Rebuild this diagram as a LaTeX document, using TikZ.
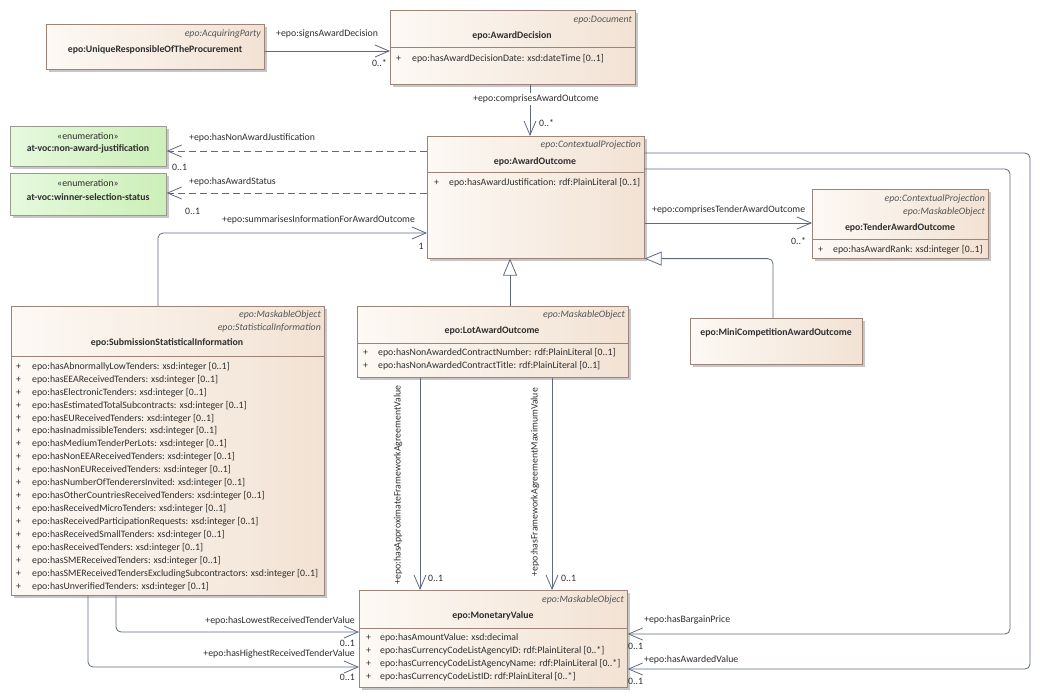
\documentclass[tikz,border=0pt]{standalone}
\usepackage{fontspec}
\setmainfont{Carlito}
\usetikzlibrary{arrows.meta,shadows}
\definecolor{clsL}{HTML}{FDF9F4}
\definecolor{clsR}{HTML}{F2E2D4}
\definecolor{bord}{HTML}{9E8478}
\definecolor{enL}{HTML}{E6F9DD}
\definecolor{enR}{HTML}{CCEFB8}
\definecolor{enB}{HTML}{9A9A90}
\definecolor{lnc}{HTML}{5E6A82}
\definecolor{txc}{HTML}{2E2E2E}
\definecolor{stc}{HTML}{555555}
\newcommand{\dfont}{\fontsize{9.8}{11}\selectfont}
\begin{document}
\begin{tikzpicture}[x=1pt,y=-1pt,
  every node/.style={font=\dfont, text=txc, inner sep=0pt},
  boxshadow/.style={drop shadow={shadow xshift=2.5pt, shadow yshift=-2.5pt, fill=black!22, opacity=1}},
  cls/.style={draw=bord, line width=0.6pt, left color=clsL, right color=clsR, anchor=north west, boxshadow},
  enm/.style={draw=enB, line width=0.6pt, left color=enL, right color=enR, anchor=north west, boxshadow},
  ster/.style={font=\dfont\itshape, text=stc, anchor=east},
  nm/.style={font=\dfont\bfseries},
  att/.style={anchor=west},
  sep/.style={draw=bord, line width=0.6pt},
  conn/.style={draw=lnc, line width=0.8pt, rounded corners=5pt},
  assoc/.style={conn, -{Straight Barb[length=14pt,width=12pt]}},
  dassoc/.style={assoc, dash pattern=on 7pt off 4pt},
  gen/.style={conn, -{Triangle[length=17pt,width=14pt,fill=white]}},
  lw/.style={anchor=west},
  le/.style={anchor=east}
]
\useasboundingbox (0,0) rectangle (1040,698);
\fill[white] (0,0) rectangle (1040,698);

% ---------- boxes ----------
\node[cls, minimum width=218pt, minimum height=45pt] (urp) at (46,24) {};
\node[ster] (urps) at (261,34) {epo:AcquiringParty};
\node[nm] (urpn) at (155,50) {epo:UniqueResponsibleOfTheProcurement};

\node[cls, minimum width=245pt, minimum height=74pt] (ad) at (390,10) {};
\node[ster] (ads) at (632,20) {epo:Document};
\node[nm] (adn) at (512,36) {epo:AwardDecision};
\draw[sep] (ad.west |- 0,47) -- (ad.east |- 0,47);
\node[att] (adp) at (396,59) {+};
\node[att] (ada) at (412,59) {epo:hasAwardDecisionDate: xsd:dateTime [0..1]};

\node[enm, minimum width=156pt, minimum height=40pt] (en1) at (10,126) {};
\node (en1s) at (88,136) {«enumeration»};
\node[nm] (en1n) at (88,149) {at-voc:non-award-justification};

\node[enm, minimum width=156pt, minimum height=42pt] (en2) at (10,173) {};
\node (en2s) at (88,183) {«enumeration»};
\node[nm] (en2n) at (88,197) {at-voc:winner-selection-status};

\node[cls, minimum width=217pt, minimum height=122pt] (ao) at (427,136) {};
\node[ster] (aos) at (641,145) {epo:ContextualProjection};
\node[nm] (aon) at (535,162) {epo:AwardOutcome};
\draw[sep] (ao.west |- 0,172) -- (ao.east |- 0,172);
\node[att] (aop) at (434,183) {+};
\node[att] (aoa) at (449,183) {epo:hasAwardJustification: rdf:PlainLiteral [0..1]};

\node[cls, minimum width=176pt, minimum height=69pt] (tao) at (812,189) {};
\node[ster] (taos1) at (985,199) {epo:ContextualProjection};
\node[ster] (taos2) at (985,212) {epo:MaskableObject};
\node[nm] (taon) at (900,228) {epo:TenderAwardOutcome};
\draw[sep] (tao.west |- 0,239) -- (tao.east |- 0,239);
\node[att] (taop) at (818,250) {+};
\node[att] (taoa) at (833,250) {epo:hasAwardRank: xsd:integer [0..1]};

\node[cls, minimum width=172pt, minimum height=46pt] (mini) at (690,318) {};
\node[nm] (minin) at (776,333) {epo:MiniCompetitionAwardOutcome};

\node[cls, minimum width=271pt, minimum height=71pt] (lao) at (357,306) {};
\node[ster] (laos) at (625,315) {epo:MaskableObject};
\node[nm] (laon) at (492,331) {epo:LotAwardOutcome};
\draw[sep] (lao.west |- 0,343) -- (lao.east |- 0,343);
\node[att] (laop1) at (363,353) {+};
\node[att] (laoa1) at (378,353) {epo:hasNonAwardedContractNumber: rdf:PlainLiteral [0..1]};
\node[att] (laop2) at (363,366) {+};
\node[att] (laoa2) at (378,366) {epo:hasNonAwardedContractTitle: rdf:PlainLiteral [0..1]};

\node[cls, minimum width=313pt, minimum height=289pt] (ssi) at (11,306) {};
\node[ster] (ssis1) at (321,315) {epo:MaskableObject};
\node[ster] (ssis2) at (321,328) {epo:StatisticalInformation};
\node[nm] (ssin) at (167,343) {epo:SubmissionStatisticalInformation};
\draw[sep] (ssi.west |- 0,356) -- (ssi.east |- 0,356);
\foreach \t [count=\i from 0] in {
 epo:hasAbnormallyLowTenders: xsd:integer [0..1],
 epo:hasEEAReceivedTenders: xsd:integer [0..1],
 epo:hasElectronicTenders: xsd:integer [0..1],
 epo:hasEstimatedTotalSubcontracts: xsd:integer [0..1],
 epo:hasEUReceivedTenders: xsd:integer [0..1],
 epo:hasInadmissibleTenders: xsd:integer [0..1],
 epo:hasMediumTenderPerLots: xsd:integer [0..1],
 epo:hasNonEEAReceivedTenders: xsd:integer [0..1],
 epo:hasNonEUReceivedTenders: xsd:integer [0..1],
 epo:hasNumberOfTenderersInvited: xsd:integer [0..1],
 epo:hasOtherCountriesReceivedTenders: xsd:integer [0..1],
 epo:hasReceivedMicroTenders: xsd:integer [0..1],
 epo:hasReceivedParticipationRequests: xsd:integer [0..1],
 epo:hasReceivedSmallTenders: xsd:integer [0..1],
 epo:hasReceivedTenders: xsd:integer [0..1],
 epo:hasSMEReceivedTenders: xsd:integer [0..1],
 epo:hasSMEReceivedTendersExcludingSubcontractors: xsd:integer [0..1],
 epo:hasUnverifiedTenders: xsd:integer [0..1]} {
  \node[att] (ssip\i) at (16,366.5+12.95*\i) {+};
  \node[att] (ssia\i) at (32,366.5+12.95*\i) {\t};
}

\node[cls, minimum width=268pt, minimum height=97pt] (mv) at (359,590) {};
\node[ster] (mvs) at (624,600) {epo:MaskableObject};
\node[nm] (mvn) at (493,616) {epo:MonetaryValue};
\draw[sep] (mv.west |- 0,628) -- (mv.east |- 0,628);
\foreach \t/\yy [count=\i] in {
 {epo:hasAmountValue: xsd:decimal}/638,
 {epo:hasCurrencyCodeListAgencyID: rdf:PlainLiteral [0..*]}/651,
 {epo:hasCurrencyCodeListAgencyName: rdf:PlainLiteral [0..*]}/664,
 {epo:hasCurrencyCodeListID: rdf:PlainLiteral [0..*]}/677} {
  \node[att] (mvp\i) at (366,\yy) {+};
  \node[att] (mva\i) at (380,\yy) {\t};
}

% ---------- connectors ----------
\draw[assoc] (urp.east |- 0,51) -- (ad.west |- 0,51);
\node[lw] (l1) at (276,34) {+epo:signsAwardDecision};
\node[le] (m1) at (387,63) {0..*};

\draw[assoc] (ad.south -| 530,0) -- (ao.north -| 530,0);
\node[fill=white, inner ysep=2pt, inner xsep=1pt] (l2) at (536,99) {+epo:comprisesAwardOutcome};
\node[lw] (m2) at (539,123) {0..*};

\draw[dassoc] (ao.west |- 0,151) -- (en1.east |- 0,151);
\node[lw] (l3) at (189,138) {+epo:hasNonAwardJustification};
\node[lw] (m3) at (172,167) {0..1};

\draw[dassoc] (ao.west |- 0,193) -- (en2.east |- 0,193);
\node[lw] (l4) at (189,182) {+epo:hasAwardStatus};
\node[lw] (m4) at (185,211) {0..1};

\draw[assoc] (ssi.north -| 158,0) |- (ao.west |- 0,233);
\node[lw] (l5) at (222,220) {+epo:summarisesInformationForAwardOutcome};
\node (m5) at (421,246) {1};

\draw[assoc] (ao.east |- 0,223) -- (tao.west |- 0,223);
\node[lw] (l6) at (652,210) {+epo:comprisesTenderAwardOutcome};
\node[lw] (m6) at (791,241) {0..*};

\draw[gen] (lao.north -| 510,0) -- (ao.south -| 510,0);
\draw[gen] (mini.north -| 773,0) |- (ao.south east);

\draw[assoc] (ao.east |- 0,169) -- (1010,169) |- (mv.east |- 0,634);
\node[lw] (l7) at (644,620) {+epo:hasBargainPrice};
\node[lw] (m7) at (628,646) {0..1};

\draw[assoc] (ao.east |- 0,153) -- (1030,153) |- (mv.east |- 0,669);
\node[lw] (l8) at (644,660) {+epo:hasAwardedValue};
\node[lw] (m8) at (628,681) {0..1};

\draw[assoc] (ssi.south -| 116,0) |- (mv.west |- 0,632);
\node[le] (l9) at (355,621) {+epo:hasLowestReceivedTenderValue};
\node[le] (m9) at (355,643) {0..1};

\draw[assoc] (ssi.south -| 88,0) |- (mv.west |- 0,667);
\node[le] (l10) at (355,654) {+epo:hasHighestReceivedTenderValue};
\node[le] (m10) at (355,677) {0..1};

\draw[assoc] (lao.south -| 420,0) -- (mv.north -| 420,0);
\node[rotate=90] (l11) at (398,485) {+epo:hasApproximateFrameworkAgreementValue};
\node[lw] (m11) at (428,578) {0..1};

\draw[assoc] (lao.south -| 552,0) -- (mv.north -| 552,0);
\node[rotate=90] (l12) at (535,482) {+epo:hasFrameworkAgreementMaximumValue};
\node[lw] (m12) at (561,578) {0..1};
\end{tikzpicture}
\end{document}
